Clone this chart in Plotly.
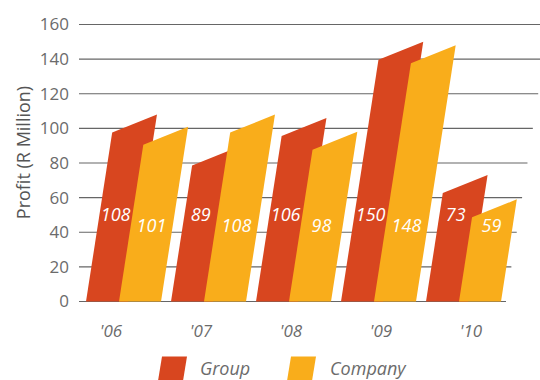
import plotly.graph_objects as go

# ---------------- data ----------------
years = ["'06", "'07", "'08", "'09", "'10"]
group_profit = [108, 89, 106, 150, 73]
company_profit = [101, 108, 98, 148, 59]
y_ticks = [0, 20, 40, 60, 80, 100, 120, 140, 160]
series_names = ["Group", "Company"]
colors = {"Group": "#D8461F", "Company": "#F9AD1B"}

# ---------------- layout geometry ----------------
W, H = 540, 380
ML, MR, MT, MB = 79, 0, 0, 75
plot_h = H - MT - MB
base_px = 301.5            # pixel row of value 0
ppu = 1.73125               # pixels per profit unit
y_lo = -(H - MB - base_px) / ppu
y_hi = (base_px - MT) / ppu
x_lo, x_hi = ML, W - MR     # x axis in pixel-like units

skew = 0.155                # horizontal lean per pixel of height
bar_w = 42
pair_step = 85
first_left = 86
company_offset = 33
top_drop = 18               # px the top-left corner sits below the top-right
font = "Open Sans"
txt_gray = "#6b6b6b"


def bar_poly(left, v):
    h = v * ppu
    xs = [left, left + bar_w, left + bar_w + skew * h, left + skew * (h - top_drop), left]
    ys = [0, 0, v, v - top_drop / ppu, 0]
    return xs, ys


fig = go.Figure()

# gridlines with slanted right ends
gx, gy = [], []
for t in y_ticks:
    gx += [x_lo, 506 + skew * t * ppu, None]
    gy += [t, t, None]
fig.add_trace(go.Scatter(x=gx, y=gy, mode="lines", line=dict(color="#666666", width=1.1),
                         showlegend=False, hoverinfo="skip"))

group_lbl_v = 49
company_lbl_v = 42.6
lx_g, lx_c = [], []
for i, yr in enumerate(years):
    left_g = first_left + pair_step * i
    left_c = left_g + company_offset
    for name, left, v in (("Group", left_g, group_profit[i]), ("Company", left_c, company_profit[i])):
        xs, ys = bar_poly(left, v)
        fig.add_trace(go.Scatter(x=xs, y=ys, fill="toself", mode="lines",
                                 fillcolor=colors[name], line=dict(width=0, color=colors[name]),
                                 showlegend=False, hoverinfo="skip", name=name))
    lx_g.append(left_g + skew * group_lbl_v * ppu + company_offset / 2)
    lx_c.append(left_c + skew * company_lbl_v * ppu + bar_w / 2)

fig.add_trace(go.Scatter(x=lx_g, y=[group_lbl_v] * len(years), mode="text",
                         text=[str(v) for v in group_profit],
                         textfont=dict(family=font, size=18, color="white", style="italic"),
                         showlegend=False, hoverinfo="skip"))
fig.add_trace(go.Scatter(x=lx_c, y=[company_lbl_v] * len(years), mode="text",
                         text=[str(v) for v in company_profit],
                         textfont=dict(family=font, size=18, color="white", style="italic"),
                         showlegend=False, hoverinfo="skip"))


def px_to_paper(px, py):
    return (px - ML) / (W - ML - MR), (H - MB - py) / plot_h


# legend swatches (parallelograms) and labels
shapes, annotations = [], []
legend_items = [("Group", 158, 198), ("Company", 287, 328)]
for name, sx, tx in legend_items:
    pts = [(sx + 4, 356.5), (sx + 29, 356.5), (sx + 25, 381), (sx, 381)]
    path = ""
    for k, (a, b) in enumerate(pts):
        u, w = px_to_paper(a, b)
        path += ("M" if k == 0 else "L") + f"{u:.5f},{w:.5f} "
    path += "Z"
    shapes.append(dict(type="path", xref="paper", yref="paper", path=path,
                       fillcolor=colors[name], line=dict(width=0), layer="above"))
    u, w = px_to_paper(tx, 368)
    annotations.append(dict(x=u, y=w, xref="paper", yref="paper", text=name,
                            showarrow=False, xanchor="left", yanchor="middle",
                            font=dict(family=font, size=18, color=txt_gray, style="italic")))

fig.update_layout(
    width=W, height=H,
    margin=dict(l=ML, r=MR, t=MT, b=MB, pad=0),
    paper_bgcolor="white", plot_bgcolor="white",
    showlegend=False,
    shapes=shapes, annotations=annotations,
    xaxis=dict(range=[x_lo, x_hi], showgrid=False, zeroline=False, showline=False,
               tickvals=[111 + 90 * i for i in range(len(years))], ticktext=years,
               tickfont=dict(family=font, size=17, color=txt_gray, style="italic"),
               ticks="", ticklabelstandoff=14, fixedrange=True),
    yaxis=dict(range=[y_lo, y_hi], showgrid=False, zeroline=False, showline=False,
               tickvals=y_ticks, tickfont=dict(family=font, size=17, color=txt_gray),
               ticks="", ticklabelstandoff=9,
               title=dict(text="Profit (R Million)", font=dict(family=font, size=18, color="#555555"),
                          standoff=4),
               fixedrange=True),
)

fig.write_html("out.html")
